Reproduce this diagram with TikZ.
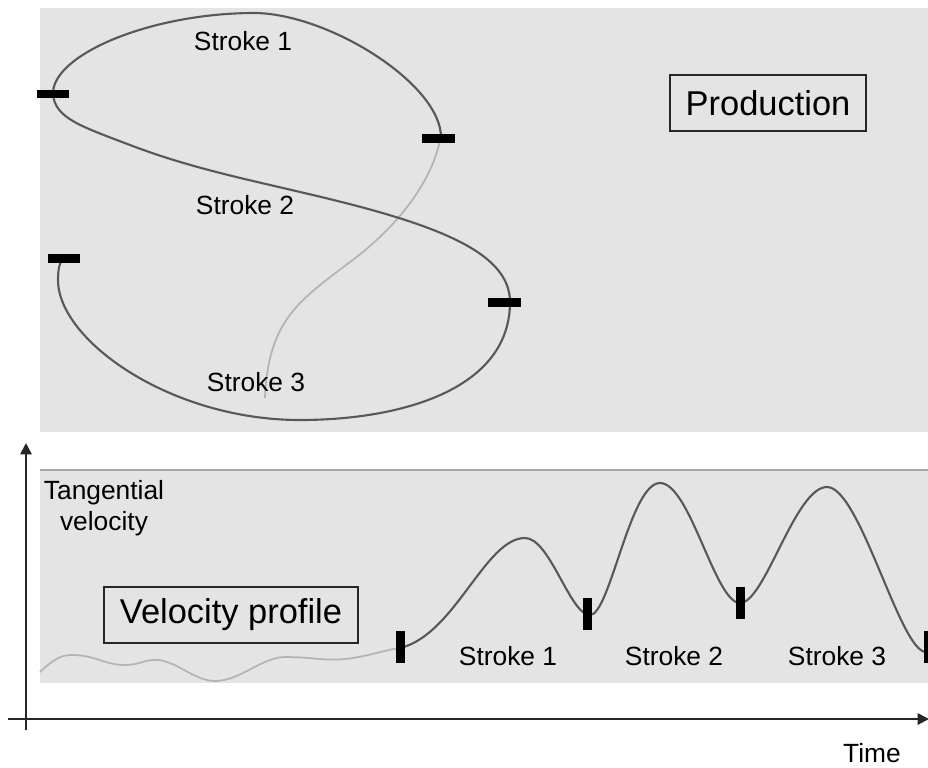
\documentclass[tikz,border=0pt]{standalone}
\usepackage{fontspec}
\setmainfont{Liberation Sans}
\usetikzlibrary{arrows.meta,positioning}
\definecolor{hwPanel}{HTML}{E4E4E4}
\definecolor{hwEdge}{HTML}{A6A6A6}
\definecolor{hwInk}{HTML}{585858}
\definecolor{hwPenUp}{HTML}{B4B4B4}
\tikzset{
  panel/.style={fill=hwPanel, draw=none},
  lbl/.style={font=\fontsize{15}{18}\selectfont, inner sep=0pt, align=center},
  tagbox/.style={draw=black!85, line width=0.9pt, font=\fontsize{19.6}{23}\selectfont, inner xsep=9pt, minimum height=32pt},
  mkH/.style={fill=black, inner sep=0pt, minimum width=0.66cm, minimum height=0.18cm},
  mkV/.style={fill=black, inner sep=0pt, minimum width=0.18cm, minimum height=0.64cm},
  stk/.style={draw=hwInk, line width=1.2pt},
  penup/.style={draw=hwPenUp, line width=1pt},
  axis/.style={-{Triangle[length=6.5pt,width=6.5pt]}, line width=1.1pt, draw=black!85},
}
\begin{document}
\begin{tikzpicture}[x=0.02cm, y=-0.02cm]
  \useasboundingbox (0,0) rectangle (928,767);
  % panels
  \fill[panel] (40,8) rectangle (928,432);
  \fill[panel] (40,470) rectangle (928,683);
  \draw[hwEdge, line width=1pt] (40,470) -- (928,470);
  % production trace
  \draw[penup] (440,140) .. controls (432,180) and (400,225) .. (350,262)
    .. controls (300,300) and (268,320) .. (265,398);
  \draw[stk] (441,138) .. controls (442,85) and (330,14) .. (255,13)
    .. controls (150,13) and (52,55) .. (53,94)
    .. controls (55,118) and (80,126) .. (130,145)
    .. controls (190,168) and (250,180) .. (300,192)
    .. controls (430,222) and (510,250) .. (510,302)
    .. controls (510,390) and (400,420) .. (300,420)
    .. controls (170,420) and (58,340) .. (58,280)
    .. controls (58,268) and (60,262) .. (63,258);
  \node[mkH] (m1) at (53,94) {};
  \node[mkH] (m2) at (438,138) {};
  \node[mkH] (m3) at (504,302) {};
  \node[mkH] (m4) at (64,258) {};
  \node[lbl] (s1) at (243,41) {Stroke 1};
  \node[lbl] (s2) at (245,205) {Stroke 2};
  \node[lbl] (s3) at (256,382) {Stroke 3};
  \node[tagbox] (prod) at (768,103) {Production};
  % velocity profile
  \draw[penup] (40,672) .. controls (55,658) and (62,655) .. (72,655)
    .. controls (95,655) and (105,665) .. (125,665)
    .. controls (140,665) and (145,659) .. (158,660)
    .. controls (178,662) and (195,681) .. (215,681)
    .. controls (240,681) and (262,657) .. (285,657)
    .. controls (310,657) and (325,661) .. (345,659)
    .. controls (365,657) and (385,650) .. (400,648);
  \draw[stk] (400,648) .. controls (455,635) and (485,538) .. (525,538)
    .. controls (550,538) and (570,615) .. (590,615)
    .. controls (610,615) and (630,483) .. (660,483)
    .. controls (690,483) and (715,603) .. (740,603)
    .. controls (765,603) and (795,487) .. (827,487)
    .. controls (860,487) and (900,652) .. (926,652);
  \node[mkV] (v1) at (400,647) {};
  \node[mkV] (v2) at (587,614) {};
  \node[mkV] (v3) at (740,603) {};
  \node[mkV] (v4) at (928,647) {};
  \node[lbl] (t1) at (508,656) {Stroke 1};
  \node[lbl] (t2) at (674,656) {Stroke 2};
  \node[lbl] (t3) at (837,656) {Stroke 3};
  \node[tagbox] (vel) at (231,615) {Velocity profile};
  \node[lbl] (tv) at (104,508) {Tangential\\velocity};
  % axes
  \coordinate (yb) at (26,730);
  \coordinate (yt) at (26,443);
  \coordinate (xl) at (8,719);
  \coordinate (xr) at (929,719);
  \draw[axis] (yb) -- (yt);
  \draw[axis] (xl) -- (xr);
  \node[lbl] (time) at (872,753) {Time};
\end{tikzpicture}
\end{document}
